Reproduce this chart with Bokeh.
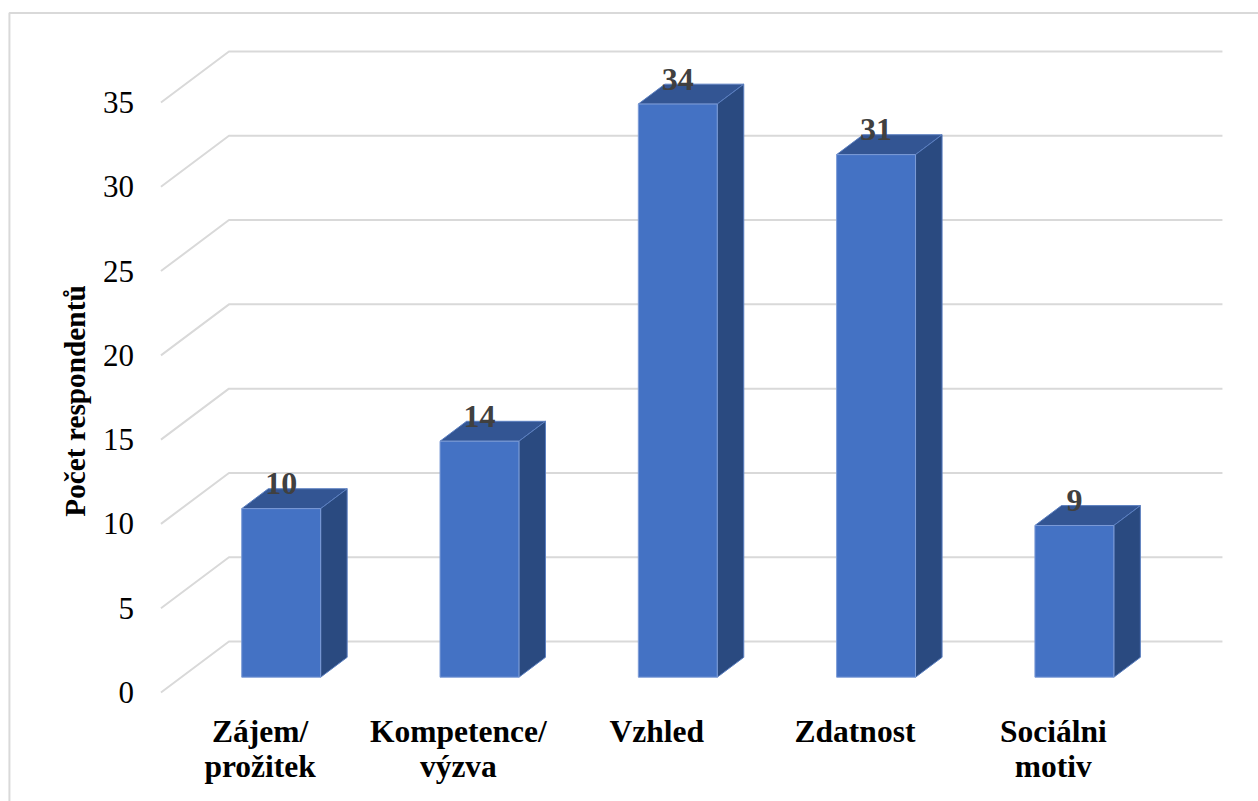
from bokeh.plotting import figure
from bokeh.models import Range1d, FixedTicker, ColumnDataSource
from bokeh.core.properties import value
from bokeh.embed import file_html
from bokeh.resources import INLINE

categories = ["Zájem/\nprožitek", "Kompetence/\nvýzva", "Vzhled", "Zdatnost", "Sociálni\nmotiv"]
respondents = [10, 14, 34, 31, 9]
y_ticks = [0, 5, 10, 15, 20, 25, 30, 35]
y_title = "Počet respondentů"

SERIF = "Liberation Serif"
# projection of the pseudo-3D box, in data units
DEPTH_X, DEPTH_Y = 0.343, 3.025
FRONT = 0.31            # bar front face, as share of the depth
BAR_DEPTH = 0.39        # bar depth, as share of the depth
BAR_W = 0.398
X0, X1 = -1.3091, 5.0348
Y0, Y1 = -6.466, 41.05

p = figure(width=1258, height=801, output_backend="svg", toolbar_location=None,
           x_range=Range1d(X0, X1), y_range=Range1d(Y0, Y1),
           min_border=0, outline_line_color=None)
p.grid.visible = False

# chart border
p.line([X0 + 0.045, X0 + 0.045, X1], [Y0, Y1 - 0.74, Y1 - 0.74], line_color="#d9d9d9", line_width=2)

# gridlines: floor-to-wall side line, then back wall line
left = -0.5
right = 4.51
p.multi_line([[left, left + DEPTH_X, right + DEPTH_X] for _ in y_ticks],
             [[t, t + DEPTH_Y, t + DEPTH_Y] for t in y_ticks],
             line_color="#d9d9d9", line_width=2)

# bars
xs0 = [i + FRONT * DEPTH_X - BAR_W / 2 for i in range(len(respondents))]
xs1 = [x + BAR_W for x in xs0]
ybase = 0.30 * DEPTH_Y
dx, dy = BAR_DEPTH * DEPTH_X, BAR_DEPTH * DEPTH_Y
tops = [v + ybase for v in respondents]

p.patches([[a, b, b + dx, a + dx] for a, b in zip(xs0, xs1)],
          [[t, t, t + dy, t + dy] for t in tops],
          fill_color="#335593", line_color="#5b7fc0", line_width=1)
p.patches([[b, b + dx, b + dx, b] for b in xs1],
          [[ybase, ybase + dy, t + dy, t] for t in tops],
          fill_color="#2a4a80", line_color="#5b7fc0", line_width=1)
p.quad(left=xs0, right=xs1, bottom=ybase, top=tops,
       fill_color="#4472c4", line_color="#7c9bd6", line_width=1)

# value labels
lab = ColumnDataSource(dict(x=[(a + b) / 2 for a, b in zip(xs0, xs1)],
                            y=[t + 1.47 for t in tops],
                            t=[str(v) for v in respondents]))
p.text("x", "y", text="t", source=lab, text_font=value(SERIF), text_font_style="bold",
       text_font_size="32px", text_color="#404040", text_align="center", text_baseline="middle")

# axes, inside the frame
yax = p.yaxis[0]
yax.fixed_location = left
yax.ticker = FixedTicker(ticks=y_ticks)
yax.axis_line_color = None
yax.major_tick_line_color = None
yax.minor_tick_line_color = None
yax.major_label_standoff = 21
yax.major_label_text_font = SERIF
yax.major_label_text_font_size = "31px"
yax.major_label_text_color = "#000000"
yax.axis_label = y_title
yax.axis_label_text_font = SERIF
yax.axis_label_text_font_style = "bold"
yax.axis_label_text_font_size = "29.3px"
yax.axis_label_text_color = "#000000"
yax.axis_label_standoff = 9

xax = p.xaxis[0]
xax.fixed_location = 0
xax.ticker = FixedTicker(ticks=list(range(len(categories))))
xax.major_label_overrides = {i: c for i, c in enumerate(categories)}
xax.axis_line_color = None
xax.major_tick_line_color = None
xax.minor_tick_line_color = None
xax.major_label_standoff = 16
xax.major_label_text_font = SERIF
xax.major_label_text_font_style = "bold"
xax.major_label_text_font_size = "31.5px"
xax.major_label_text_line_height = 1.0
xax.major_label_text_color = "#000000"

open("out.html", "w").write(file_html(p, INLINE))
